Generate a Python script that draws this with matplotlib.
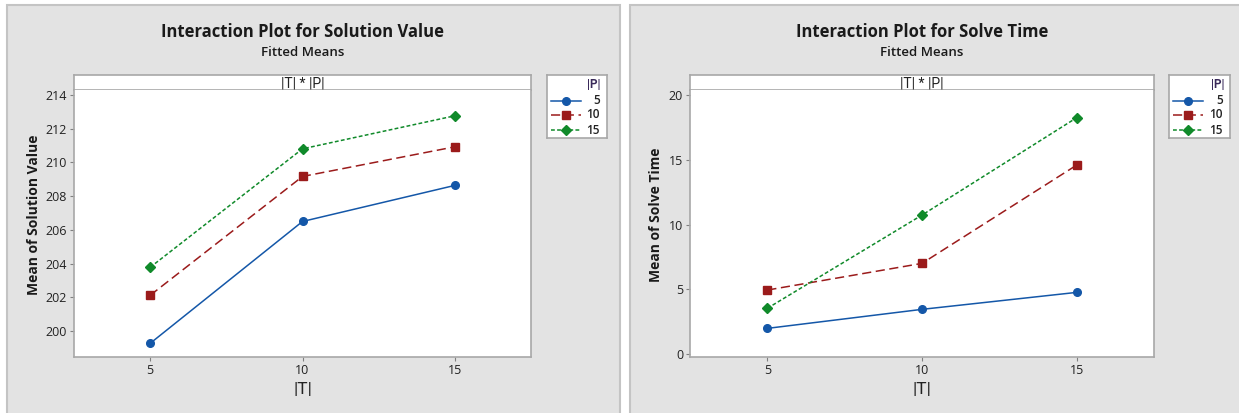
import matplotlib
matplotlib.use("Agg")
from matplotlib import pyplot as plt
from matplotlib.patches import Rectangle
from matplotlib.lines import Line2D

plt.rcParams["font.family"] = ["Open Sans", "DejaVu Sans"]
BAR_FONT = ["Roboto", "DejaVu Sans"]  # tighter "|" glyph for |T|, |P|

# data
t_levels = [5, 10, 15]
p_levels = ["5", "10", "15"]

solution_value = {
    "5": [199.27, 206.5, 208.64],
    "10": [202.12, 209.17, 210.93],
    "15": [203.78, 210.81, 212.77],
}
solve_time = {
    "5": [1.98, 3.45, 4.76],
    "10": [4.94, 7.0, 14.59],
    "15": [3.53, 10.73, 18.25],
}

colors = {"5": "#1457a8", "10": "#9b1b1b", "15": "#108a2a"}
markers = {"5": "o", "10": "s", "15": "D"}
msizes = {"5": 5.5, "10": 6, "15": 5.5}
dashes = {"5": (None, None), "10": (6, 3), "15": (2.5, 1.5)}

W, H = 1239, 413
fig = plt.figure(figsize=(W / 100, H / 100), dpi=100)
fig.patch.set_facecolor("white")


def box(x0, y0, x1, y1):
    # pixel box (top-left origin) -> figure fraction
    return [x0 / W, 1 - y1 / H, (x1 - x0) / W, (y1 - y0) / H]


# grey panel backgrounds drawn in a full-figure axes underneath everything
back = fig.add_axes([0, 0, 1, 1], zorder=-5)
back.set_xlim(0, W)
back.set_ylim(H, 0)
back.axis("off")
for x0, x1 in [(7, 620), (630, 1245)]:
    back.add_patch(Rectangle((x0, 5), x1 - x0, 420, facecolor="#e3e3e3",
                             edgecolor="#c4c4c4", linewidth=1.5))


def panel(x0, x1, legx0, legx1, data, ylim, yticks, title, ylabel, ylab_x):
    xc = (x0 + x1) / 2
    fig.text(xc / W, 1 - 32 / H, title, ha="center", va="center",
             fontsize=12, fontweight="bold", color="#1a1a1a")
    fig.text(xc / W, 1 - 53 / H, "Fitted Means", ha="center", va="center",
             fontsize=9.5, fontweight="semibold", color="#1a1a1a")

    # header strip
    hd = fig.add_axes(box(x0, 75, x1, 90))
    hd.set_xticks([])
    hd.set_yticks([])
    hd.set_facecolor("white")
    for s in hd.spines.values():
        s.set_color("#a8a8a8")
        s.set_linewidth(1.2)
    hd.text(0.5, 0.45, "|T| * |P|", ha="center", va="center", fontsize=10,
            family=BAR_FONT, transform=hd.transAxes, color="#222222")

    ax = fig.add_axes(box(x0, 90, x1, 357))
    ax.set_facecolor("white")
    for p in p_levels:
        ln, = ax.plot(t_levels, data[p], color=colors[p], marker=markers[p],
                      markersize=msizes[p], linewidth=1.1)
        if dashes[p][0] is not None:
            ln.set_dashes(dashes[p])
    ax.set_xlim(2.5, 17.5)
    ax.set_ylim(*ylim)
    ax.set_xticks(t_levels)
    ax.set_yticks(yticks)
    ax.tick_params(labelsize=9, length=3, color="#808080", colors="#222222", pad=2)
    for s in ax.spines.values():
        s.set_color("#a8a8a8")
        s.set_linewidth(1.2)
    ax.spines["top"].set_visible(False)
    ax.set_xlabel("|T|", fontsize=12.5, family=BAR_FONT, color="#222222", labelpad=4)
    fig.text(ylab_x / W, 1 - 215 / H, ylabel, rotation=90, ha="center", va="center",
             fontsize=10, fontweight="bold", color="#1a1a1a")

    # legend box
    lg = fig.add_axes(box(legx0, 75, legx1, 138))
    lg.set_xlim(0, 1)
    lg.set_ylim(1, 0)
    lg.set_xticks([])
    lg.set_yticks([])
    for s in lg.spines.values():
        s.set_color("#a8a8a8")
        s.set_linewidth(1.2)
    w = legx1 - legx0
    lg.text((w - 6) / w, 10 / 63, "|P|", ha="right", va="center", fontsize=8.5,
            family=BAR_FONT, fontweight="bold", color="#3a2a5a")
    rows = [26, 40, 55]
    for p, ry in zip(p_levels, rows):
        ln = Line2D([4 / w, 34 / w], [ry / 63, ry / 63], color=colors[p], linewidth=1.1)
        if dashes[p][0] is not None:
            ln.set_dashes(dashes[p])
        lg.add_line(ln)
        lg.plot([19 / w], [ry / 63], marker=markers[p], color=colors[p],
                markersize=msizes[p], linestyle="none")
        lg.text((w - 7) / w, ry / 63, p, ha="right", va="center", fontsize=8.5,
                fontweight="semibold", color="#222222")


panel(74, 531, 547, 607, solution_value, (198.46, 214.3), list(range(200, 215, 2)),
      "Interaction Plot for Solution Value", "Mean of Solution Value", 34)
panel(690, 1154, 1169, 1230, solve_time, (-0.23, 20.39), [0, 5, 10, 15, 20],
      "Interaction Plot for Solve Time", "Mean of Solve Time", 656)

plt.savefig("out.png", dpi=100)
